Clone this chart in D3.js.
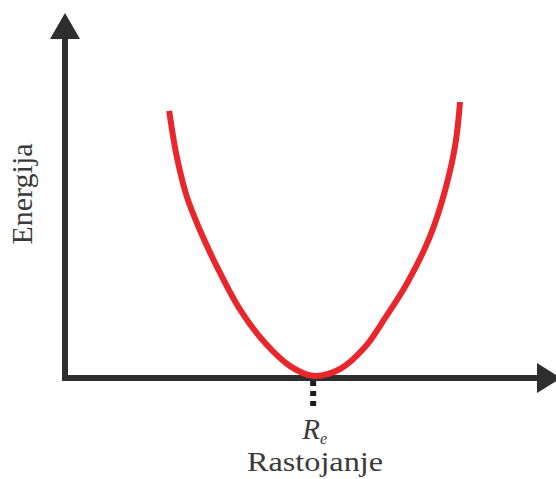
<!DOCTYPE html>
<html>
<head>
<meta charset="utf-8">
<script src="https://cdn.jsdelivr.net/npm/d3@7"></script>
<style>
  html, body { margin: 0; padding: 0; background: #fff; }
  svg { display: block; }
  text { font-family: "Liberation Serif", "Times New Roman", serif; fill: #3a3a3a; }
</style>
</head>
<body>
<svg id="chart" width="556" height="479"></svg>
<script>
// Potential energy vs. internuclear distance (arbitrary units)
const distance = [2.17, 2.33, 2.54, 2.81, 3.17, 3.65, 4.17, 4.69, 5.17,
                  5.73, 6.25, 6.67, 7.13, 7.60, 7.92, 8.13, 8.23];
const energy   = [7.42, 6.14, 5.03, 4.11, 3.08, 1.89, 0.97, 0.33, 0.06,
                  0.25, 0.86, 1.67, 2.64, 3.92, 5.22, 6.47, 7.67];
const equilibrium = 5.17;           // R_e, position of the minimum
const xLabel = "Rastojanje";
const yLabel = "Energija";

const svg = d3.select("#chart");
const x = d3.scaleLinear().domain([0, 10]).range([65, 545]);
const y = d3.scaleLinear().domain([0, 10]).range([378, 18]);

const axisColor = "#2e2e2e";
const x0 = x(0), y0 = y(0);

// y axis with arrowhead
svg.append("line")
  .attr("x1", x0).attr("x2", x0)
  .attr("y1", y0 + 3).attr("y2", 36)
  .attr("stroke", axisColor).attr("stroke-width", 6);
svg.append("path")
  .attr("d", `M${x0},13 L${x0 + 15},39 L${x0 - 15},39 Z`)
  .attr("fill", axisColor);

// x axis with arrowhead
svg.append("line")
  .attr("x1", x0 - 3).attr("x2", 540)
  .attr("y1", y0).attr("y2", y0)
  .attr("stroke", axisColor).attr("stroke-width", 6);
svg.append("path")
  .attr("d", `M561,${y0} L537,${y0 - 15} L537,${y0 + 15} Z`)
  .attr("fill", axisColor);

// dotted marker below the minimum
svg.append("line")
  .attr("x1", x(equilibrium)).attr("x2", x(equilibrium))
  .attr("y1", y0 + 3).attr("y2", y0 + 28)
  .attr("stroke", "#1e1e1e").attr("stroke-width", 6)
  .attr("stroke-dasharray", "5,5");

// energy curve
const pts = distance.map((d, i) => [d, energy[i]]);
const line = d3.line()
  .x(d => x(d[0]))
  .y(d => y(d[1]))
  .curve(d3.curveCatmullRom.alpha(0.5));
svg.append("path")
  .datum(pts)
  .attr("d", line)
  .attr("fill", "none")
  .attr("stroke", "#e8262c")
  .attr("stroke-width", 6);

// R_e label
const re = svg.append("text")
  .attr("x", x(equilibrium) - 11)
  .attr("y", 439)
  .attr("font-style", "italic")
  .attr("font-size", 29);
re.append("tspan").text("R");
re.append("tspan").attr("dy", 5).attr("font-size", 16).text("e");

// axis titles
svg.append("text")
  .attr("x", 315)
  .attr("y", 471)
  .attr("text-anchor", "middle")
  .attr("font-size", 27)
  .attr("textLength", 136)
  .attr("lengthAdjust", "spacingAndGlyphs")
  .text(xLabel);

svg.append("text")
  .attr("transform", "translate(32,194) rotate(-90)")
  .attr("text-anchor", "middle")
  .attr("font-size", 30)
  .text(yLabel);
</script>
</body>
</html>
